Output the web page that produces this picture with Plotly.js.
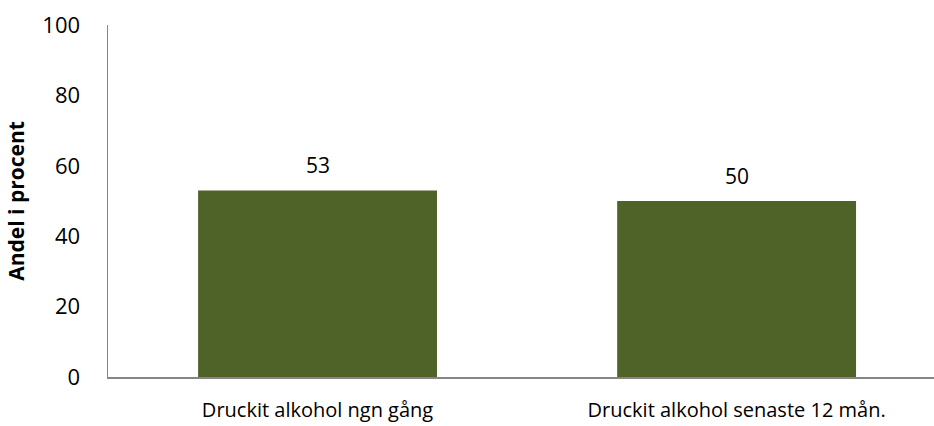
<!DOCTYPE html>
<html>
<head>
<meta charset="utf-8">
<script src="https://cdn.plot.ly/plotly-3.0.1.min.js"></script>
<style>
  html, body { margin: 0; padding: 0; background: #fff; }
  #plot { width: 934px; height: 426px; }
</style>
</head>
<body>
<div id="plot"></div>
<script>
const categories = ["Druckit alkohol ngn gång", "Druckit alkohol senaste 12 mån."];
const values = [53, 50];
const y_ticks = [0, 20, 40, 60, 80, 100];

const bar_color = "#4f6228";
const axis_color = "#868686";
const font_family = "Open Sans, Liberation Sans, sans-serif";

let data = [
    {
        type: "bar",
        x: categories,
        y: values,
        width: 0.57,
        marker: { color: bar_color },
        hoverinfo: "none"
    }
];

// value labels sit a bit higher than plotly's own outside text
let annotations = categories.map((c, i) => ({
    x: c,
    y: values[i],
    text: String(values[i]),
    showarrow: false,
    yanchor: "bottom",
    yshift: 9,
    font: { family: font_family, size: 21, color: "#000" }
}));

let layout = {
    width: 934,
    height: 426,
    margin: { l: 108, r: 0, t: 25, b: 49 },
    paper_bgcolor: "#fff",
    plot_bgcolor: "#fff",
    showlegend: false,
    font: { family: font_family, color: "#000" },
    xaxis: {
        type: "category",
        range: [-0.5, 1.471],
        showline: true,
        linecolor: axis_color,
        linewidth: 1.5,
        ticks: "",
        showgrid: false,
        zeroline: false,
        tickfont: { size: 20, family: font_family, color: "#000" },
        ticklabelstandoff: 14
    },
    yaxis: {
        range: [0, 100],
        tickvals: y_ticks,
        ticktext: y_ticks.map(String),
        showline: true,
        linecolor: axis_color,
        linewidth: 1.5,
        ticks: "",
        showgrid: false,
        zeroline: false,
        tickfont: { size: 22, family: font_family, color: "#000" },
        ticklabelstandoff: 22,
        title: {
            text: "<b>Andel i procent</b>",
            font: { size: 21, family: font_family, color: "#000" },
            standoff: 12
        }
    },
    annotations: annotations
};

let config = { staticPlot: true };

Plotly.newPlot("plot", data, layout, config);
</script>
</body>
</html>
